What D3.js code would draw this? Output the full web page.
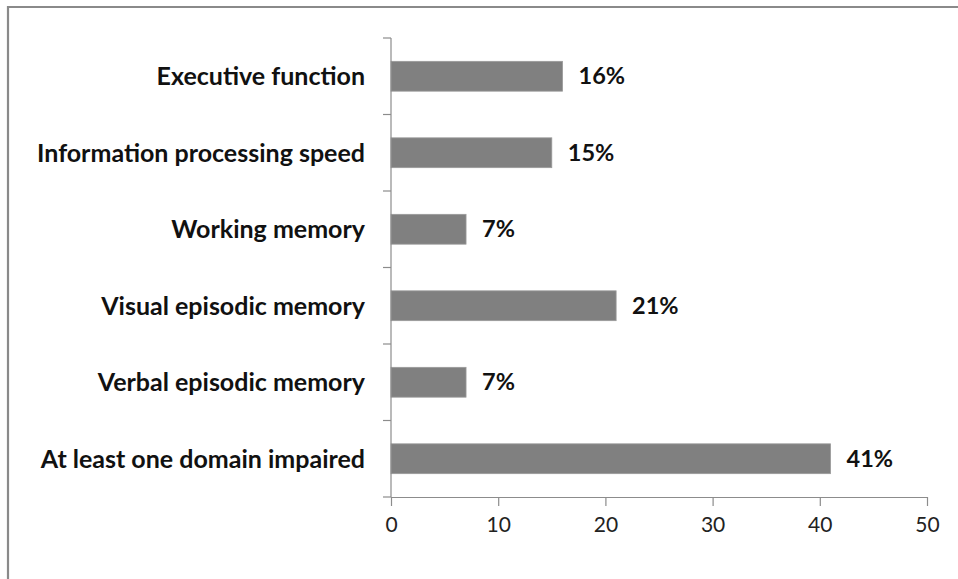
<!DOCTYPE html>
<html><head><meta charset="utf-8">
<script src="https://cdn.jsdelivr.net/npm/d3@7"></script>
<style>body{margin:0;background:#fff}svg{display:block}</style>
</head><body>
<svg id="c" width="958" height="579"></svg>
<script>
const categories = ["Executive function","Information processing speed","Working memory","Visual episodic memory","Verbal episodic memory","At least one domain impaired"];
const values = [16, 15, 7, 21, 7, 41];
const valueLabels = ["16%","15%","7%","21%","7%","41%"];
const xTicks = [0, 10, 20, 30, 40, 50];

const svg = d3.select("#c");
const font = "Lato, 'Open Sans', sans-serif";
// outer frame (top and left visible)
svg.append("path").attr("d","M8,579 V7 H958").attr("fill","none").attr("stroke","#8a8a8a").attr("stroke-width",2.2);

const x = d3.scaleLinear().domain([0,50]).range([391,927]);
const y = d3.scaleBand().domain(categories).range([38,497]).paddingInner(0.61).paddingOuter(0.305);
const axisColor = "#8c8c8c";

// bars
svg.selectAll("rect.bar").data(values).enter().append("rect")
  .attr("class","bar")
  .attr("x", x(0))
  .attr("y", (d,i)=>y(categories[i]))
  .attr("width", d=>x(d)-x(0))
  .attr("height", y.bandwidth())
  .attr("fill","#808080")
  .attr("stroke","#9a9a9a").attr("stroke-width",0.8);

// y axis line + ticks at band edges
const yEdges = d3.range(categories.length+1).map(i=>38 + i*459/6);
svg.append("line").attr("x1",x(0)).attr("x2",x(0)).attr("y1",38).attr("y2",497).attr("stroke",axisColor).attr("stroke-width",1.2);
svg.selectAll("line.yt").data(yEdges).enter().append("line")
  .attr("x1",x(0)-8).attr("x2",x(0)).attr("y1",d=>d).attr("y2",d=>d).attr("stroke",axisColor).attr("stroke-width",1.2);

// x axis
const xa = svg.append("g").attr("transform","translate(0,497)")
  .call(d3.axisBottom(x).tickValues(xTicks).tickSize(9).tickPadding(11).tickSizeOuter(0));
xa.select(".domain").attr("stroke",axisColor).attr("stroke-width",1.2);
xa.selectAll(".tick line").attr("stroke",axisColor).attr("stroke-width",1.2);
xa.selectAll(".tick text").attr("font-family",font).attr("font-size",21).attr("fill","#222");

// category labels
svg.selectAll("text.cat").data(categories).enter().append("text")
  .attr("class","cat")
  .attr("x",365)
  .attr("y",d=>y(d)+y.bandwidth()/2)
  .attr("dy","0.35em")
  .attr("text-anchor","end")
  .attr("font-family",font).attr("font-weight","bold").attr("font-size",25)
  .attr("fill","#111")
  .text(d=>d);

// value labels
svg.selectAll("text.val").data(values).enter().append("text")
  .attr("class","val")
  .attr("x",d=>x(d)+16)
  .attr("y",(d,i)=>y(categories[i])+y.bandwidth()/2)
  .attr("dy","0.35em")
  .attr("font-family",font).attr("font-weight","bold").attr("font-size",23.5)
  .attr("fill","#111")
  .text((d,i)=>valueLabels[i]);
</script>
</body></html>
